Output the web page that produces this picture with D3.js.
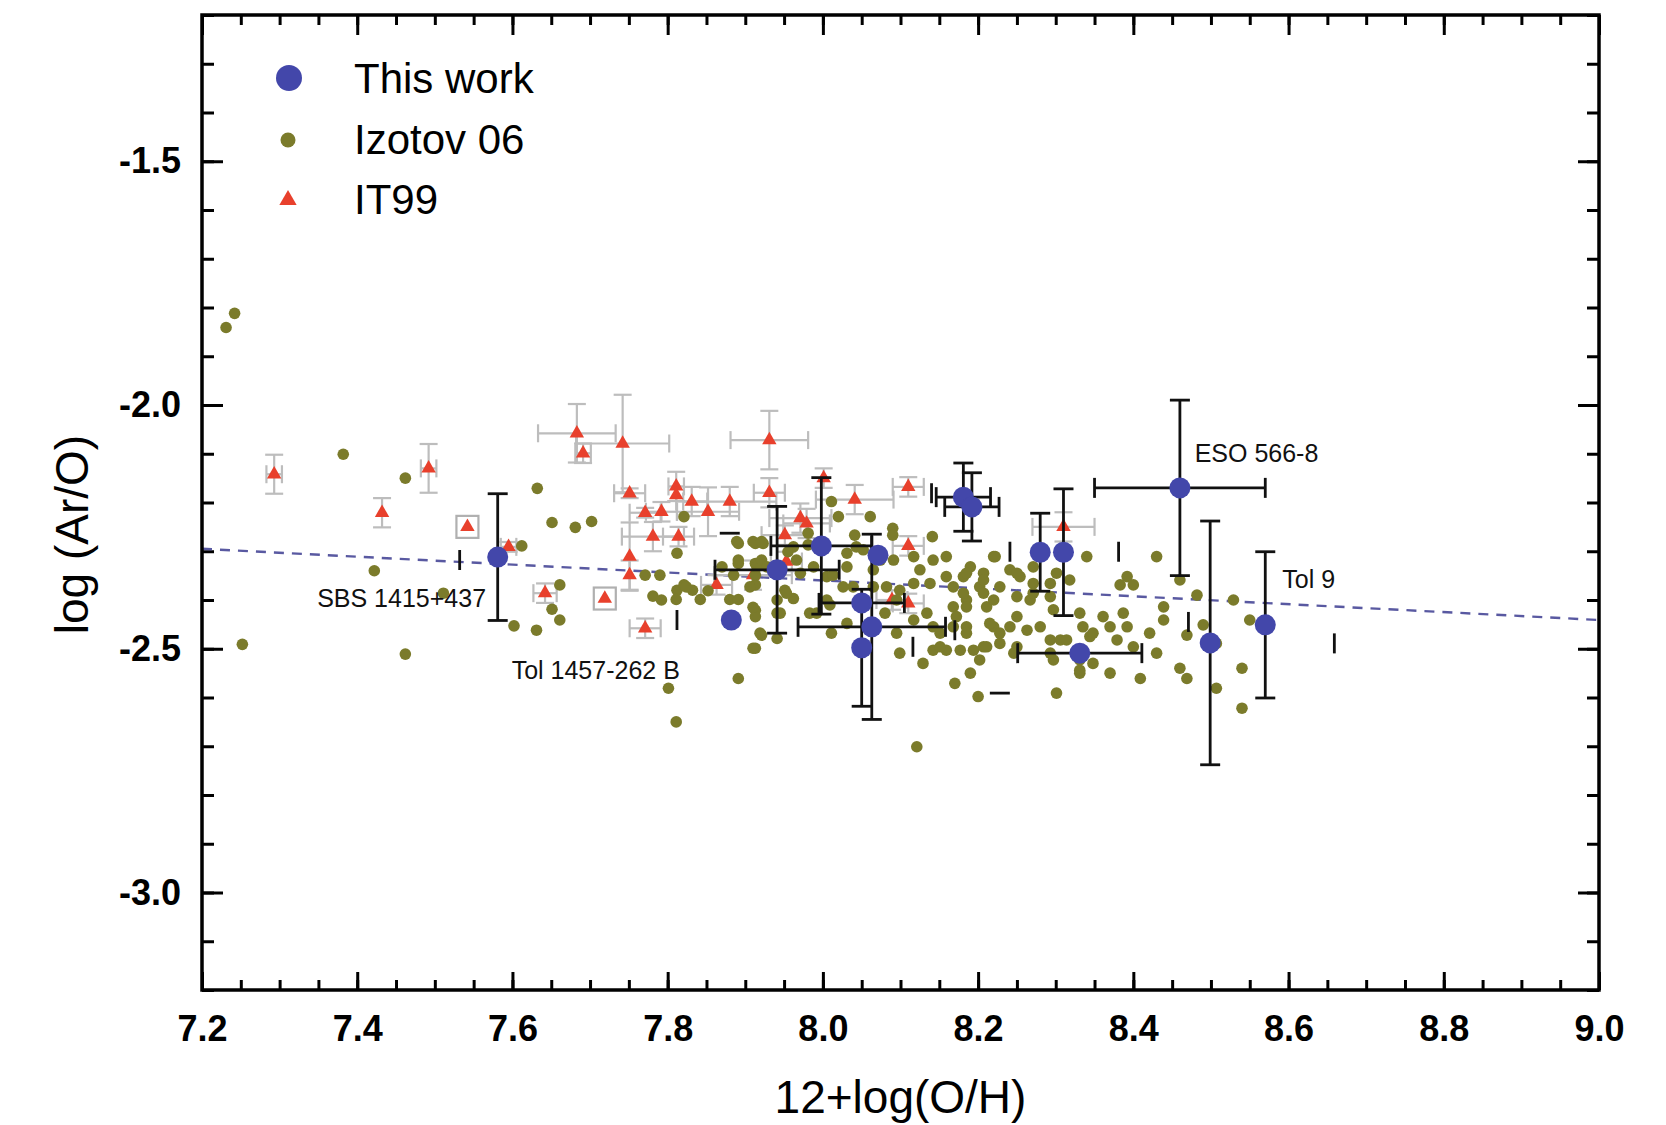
<!DOCTYPE html>
<html>
<head>
<meta charset="utf-8">
<script src="https://cdn.jsdelivr.net/npm/d3@7"></script>
<style>
  body { margin: 0; background: #fff; }
  svg { display: block; font-family: "Liberation Sans", Arial, sans-serif; }
</style>
</head>
<body>
<svg id="chart" width="1666" height="1125"></svg>
<script>
// tick values
const xTicks = [7.2, 7.4, 7.6, 7.8, 8.0, 8.2, 8.4, 8.6, 8.8, 9.0];
const yTicks = [-1.5, -2.0, -2.5, -3.0];

// This work: x, y, x error, y error
const thisWork = [
  [7.581, -2.312, 0, 0.13],
  [7.882, -2.441, 0, 0],
  [7.941, -2.338, 0.08, 0.13],
  [7.998, -2.289, 0.065, 0.14],
  [8.071, -2.308, 0, 0],
  [8.050, -2.406, 0.055, 0],
  [8.063, -2.455, 0.095, 0.19],
  [8.050, -2.498, 0, 0.12],
  [8.181, -2.189, 0.035, 0.07],
  [8.192, -2.209, 0.035, 0.07],
  [8.280, -2.302, 0, 0.08],
  [8.310, -2.302, 0, 0.13],
  [8.331, -2.509, 0.08, 0],
  [8.460, -2.170, 0.11, 0.18],
  [8.499, -2.488, 0, 0.25],
  [8.570, -2.451, 0, 0.15]
];

// Izotov 06: x, y
const izotov06 = [
  [7.231,-1.841],[7.242,-1.812],[7.252,-2.491],[7.382,-2.101],[7.422,-2.340],[7.462,-2.150],[7.462,-2.511],
  [7.511,-2.386],[7.602,-2.453],[7.612,-2.289],[7.631,-2.462],[7.632,-2.171],[7.651,-2.241],[7.651,-2.419],
  [7.661,-2.369],[7.661,-2.441],[7.681,-2.251],[7.702,-2.239],
  [7.771,-2.349],[7.790,-2.349],[7.781,-2.392],[7.792,-2.400],[7.801,-2.581],[7.811,-2.650],[7.812,-2.304],
  [7.812,-2.380],[7.821,-2.229],[7.821,-2.369],[7.832,-2.380],[7.842,-2.399],[7.852,-2.381],[7.811,-2.399],
  [7.880,-2.399],[7.891,-2.399],[7.870,-2.332],[7.891,-2.325],[7.891,-2.284],[7.913,-2.284],[7.923,-2.284],
  [7.913,-2.325],[7.913,-2.349],[7.885,-2.349],[7.913,-2.369],[7.913,-2.421],[7.913,-2.434],[7.921,-2.472],
  [7.941,-2.479],[7.913,-2.499],[7.941,-2.400],[7.951,-2.380],[7.962,-2.397],[7.962,-2.291],[7.941,-2.427],
  [8.011,-2.198],[8.020,-2.229],[8.061,-2.229],[8.090,-2.253],[8.090,-2.267],[8.141,-2.270],[8.159,-2.311],
  [8.220,-2.311],[7.910,-2.280],[7.921,-2.280],[7.891,-2.318],[7.915,-2.332],[7.921,-2.318],[7.906,-2.373],
  [7.955,-2.301],[7.966,-2.318],[7.981,-2.263],[7.981,-2.287],[7.971,-2.345],[7.988,-2.332],[8.005,-2.352],
  [8.013,-2.349],[8.031,-2.332],[8.031,-2.304],[8.043,-2.291],[8.041,-2.267],[8.052,-2.297],[8.065,-2.338],
  [8.074,-2.318],[8.091,-2.318],[8.117,-2.311],[8.125,-2.338],[8.142,-2.318],[8.159,-2.352],[8.138,-2.366],
  [8.117,-2.366],[8.099,-2.380],[8.082,-2.373],[8.065,-2.373],[8.039,-2.373],[8.026,-2.373],[8.005,-2.400],
  [8.009,-2.410],[7.983,-2.427],[7.992,-2.427],[7.953,-2.386],[7.945,-2.427],[7.919,-2.468],[7.910,-2.499],
  [7.891,-2.561],[8.011,-2.468],[8.031,-2.448],[8.080,-2.427],[8.095,-2.400],[8.095,-2.468],[8.117,-2.441],
  [8.134,-2.427],[8.142,-2.455],[8.151,-2.468],[8.168,-2.455],[8.185,-2.455],[8.168,-2.414],[8.185,-2.400],
  [8.202,-2.373],[8.211,-2.414],[8.220,-2.455],[8.168,-2.373],[8.142,-2.503],[8.159,-2.503],[8.177,-2.503],
  [8.194,-2.503],[8.202,-2.523],[8.099,-2.509],[8.129,-2.530],[8.190,-2.550],[8.170,-2.571],[8.200,-2.598],
  [8.121,-2.701],
  [8.222,-2.311],[8.190,-2.332],[8.181,-2.352],[8.207,-2.345],[8.241,-2.338],[8.254,-2.352],[8.271,-2.332],
  [8.271,-2.366],[8.293,-2.366],[8.301,-2.345],[8.318,-2.359],[8.340,-2.311],[8.430,-2.311],[8.460,-2.359],
  [8.392,-2.352],[8.383,-2.369],[8.400,-2.369],[8.181,-2.386],[8.207,-2.386],[8.228,-2.373],[8.250,-2.393],
  [8.267,-2.400],[8.293,-2.393],[8.297,-2.420],[8.172,-2.434],[8.215,-2.448],[8.241,-2.455],[8.263,-2.462],
  [8.228,-2.489],[8.250,-2.496],[8.207,-2.496],[8.293,-2.482],[8.306,-2.482],[8.297,-2.523],[8.331,-2.427],
  [8.335,-2.455],[8.344,-2.475],[8.331,-2.550],[8.348,-2.530],[8.361,-2.434],[8.370,-2.455],[8.387,-2.427],
  [8.392,-2.455],[8.379,-2.482],[8.400,-2.496],[8.421,-2.468],[8.430,-2.509],[8.439,-2.414],[8.439,-2.441],
  [8.370,-2.550],[8.409,-2.561],[8.301,-2.591],[8.460,-2.540],[8.469,-2.561],[8.469,-2.472],[8.482,-2.390],
  [8.490,-2.451],[8.507,-2.489],[8.507,-2.581],[8.529,-2.400],[8.540,-2.540],[8.540,-2.622],[8.550,-2.441],
  [8.185,-2.345],[8.207,-2.359],[8.250,-2.345],[8.271,-2.386],[8.220,-2.400],[8.185,-2.414],[8.250,-2.434],
  [8.280,-2.455],[8.228,-2.468],[8.185,-2.468],[8.151,-2.496],[8.211,-2.496],[8.246,-2.509],[8.293,-2.509],
  [8.314,-2.482],[8.348,-2.468],[8.331,-2.523],[8.331,-2.544],[7.910,-2.415],[7.889,-2.280],[7.928,-2.332],
  [7.824,-2.373]
];

// IT99: x, y, x error, y error, boxed
const it99 = [
  [7.293,-2.142,0.01,0.04,0],[7.432,-2.221,0,0.03,0],[7.492,-2.130,0.01,0.05,0],[7.542,-2.250,0,0,1],
  [7.595,-2.291,0.01,0.01,0],[7.642,-2.386,0.015,0.02,0],[7.719,-2.397,0,0,1],[7.683,-2.058,0.05,0.06,0],
  [7.691,-2.099,0.01,0.02,0],[7.742,-2.079,0.06,0.1,0],[7.751,-2.181,0.02,0.01,0],[7.771,-2.221,0.02,0.01,0],
  [7.792,-2.219,0.02,0.02,0],[7.781,-2.270,0.04,0.03,0],[7.751,-2.311,0,0.07,0],[7.751,-2.349,0,0.03,0],
  [7.771,-2.458,0.02,0.02,0],[7.811,-2.167,0.01,0.03,0],[7.811,-2.185,0,0,0],[7.831,-2.198,0.02,0.03,0],
  [7.852,-2.219,0.04,0.05,0],[7.880,-2.198,0.06,0.03,0],[7.931,-2.072,0.05,0.06,0],[7.931,-2.180,0.02,0.03,0],
  [7.814,-2.270,0.02,0.02,0],[7.863,-2.369,0.02,0.02,0],[7.951,-2.267,0.03,0.02,0],[7.953,-2.321,0.02,0.02,0],
  [8.001,-2.150,0,0.02,0],[8.041,-2.194,0.05,0.03,0],[8.110,-2.168,0.02,0.02,0],[7.971,-2.232,0.04,0.03,0],
  [7.979,-2.243,0.03,0.03,0],[8.110,-2.289,0.02,0.02,0],[7.910,-2.349,0.05,0.03,0],[8.089,-2.400,0.02,0.02,0],
  [8.110,-2.407,0.02,0.02,0],[8.310,-2.250,0.04,0.03,0]
];

// stray black error-bar caps: x, y, orientation
const looseCaps = [
  [7.532,-2.318,"v"],[8.241,-2.301,"v"],[8.381,-2.301,"v"],[8.228,-2.591,"h"],[8.471,-2.445,"v"],
  [8.659,-2.489,"v"],[7.812,-2.441,"v"],[7.880,-2.263,"h"],[8.140,-2.181,"v"],[8.116,-2.496,"v"],
  [8.170,-2.462,"v"]
];

// linear fit (dashed)
const fitLine = [[7.2, -2.295], [9.0, -2.441]];

// object names: text, x, y, anchor
const objLabels = [
  ["SBS 1415+437", 7.566, -2.414, "end"],
  ["Tol 1457-262 B", 7.599, -2.562, "start"],
  ["ESO 566-8", 8.479, -2.117, "start"],
  ["Tol 9", 8.592, -2.375, "start"]
];

const legendItems = ["This work", "Izotov 06", "IT99"];

const BLUE = "#4347aa", GREEN = "#7b7b2b", RED = "#e8402c";

const svg = d3.select("#chart");
const mLeft = 202, mRight = 1599, mTop = 15, mBottom = 990;

const x = d3.scaleLinear().domain([7.2, 9.0]).range([mLeft, mRight]);
const y = d3.scaleLinear().domain([-3.2, -1.2]).range([mBottom, mTop]);

const xMinor = d3.range(0, 37).map(i => 7.2 + i * 0.05);
const yMinor = d3.range(0, 21).map(i => -3.2 + i * 0.1);
const fmt = d => d.toFixed(1);

// axes, ticks pointing inward on all sides
function styleAxis(g) {
  g.select(".domain").remove();
  g.selectAll(".tick line").attr("stroke", "#000").attr("stroke-width", 3);
  g.selectAll(".tick text").attr("fill", "#000").attr("font-size", 36).attr("font-weight", "bold");
}
svg.append("g").attr("transform", `translate(0,${mBottom})`)
  .call(d3.axisBottom(x).tickValues(xMinor).tickSize(-10).tickFormat(""))
  .call(styleAxis);
svg.append("g").attr("transform", `translate(0,${mBottom})`)
  .call(d3.axisBottom(x).tickValues(xTicks).tickSize(-18).tickPadding(25).tickFormat(fmt))
  .call(styleAxis);
svg.append("g").attr("transform", `translate(0,${mTop})`)
  .call(d3.axisTop(x).tickValues(xMinor).tickSize(-10).tickFormat(""))
  .call(styleAxis);
svg.append("g").attr("transform", `translate(0,${mTop})`)
  .call(d3.axisTop(x).tickValues(xTicks).tickSize(-20).tickFormat(""))
  .call(styleAxis);
svg.append("g").attr("transform", `translate(${mLeft},0)`)
  .call(d3.axisLeft(y).tickValues(yMinor).tickSize(-12).tickFormat(""))
  .call(styleAxis);
svg.append("g").attr("transform", `translate(${mLeft},0)`)
  .call(d3.axisLeft(y).tickValues(yTicks).tickSize(-21).tickPadding(21).tickFormat(fmt))
  .call(styleAxis);
svg.append("g").attr("transform", `translate(${mRight},0)`)
  .call(d3.axisRight(y).tickValues(yMinor).tickSize(-12).tickFormat(""))
  .call(styleAxis);
svg.append("g").attr("transform", `translate(${mRight},0)`)
  .call(d3.axisRight(y).tickValues(yTicks).tickSize(-21).tickFormat(""))
  .call(styleAxis);

const plot = svg.append("g");

// dashed fit line
plot.append("path")
  .datum(fitLine)
  .attr("d", d3.line().x(d => x(d[0])).y(d => y(d[1])))
  .attr("fill", "none").attr("stroke", "#3c3c90").attr("stroke-width", 2.4)
  .attr("stroke-dasharray", "10,8").attr("opacity", 0.85);

// error bars helper
function errorBars(g, data, color, width, cap) {
  data.forEach(d => {
    const [dx, dy, xe, ye] = d;
    const cx = x(dx), cy = y(dy);
    if (ye > 0) {
      const y0 = y(dy + ye), y1 = y(dy - ye);
      g.append("line").attr("x1", cx).attr("x2", cx).attr("y1", y0).attr("y2", y1);
      g.append("line").attr("x1", cx - cap).attr("x2", cx + cap).attr("y1", y0).attr("y2", y0);
      g.append("line").attr("x1", cx - cap).attr("x2", cx + cap).attr("y1", y1).attr("y2", y1);
    }
    if (xe > 0) {
      const x0 = x(dx - xe), x1 = x(dx + xe);
      g.append("line").attr("x1", x0).attr("x2", x1).attr("y1", cy).attr("y2", cy);
      g.append("line").attr("x1", x0).attr("x2", x0).attr("y1", cy - cap).attr("y2", cy + cap);
      g.append("line").attr("x1", x1).attr("x2", x1).attr("y1", cy - cap).attr("y2", cy + cap);
    }
  });
  g.attr("stroke", color).attr("stroke-width", width);
}

// IT99 gray bars, boxes and triangles
errorBars(plot.append("g"), it99, "#bdbdbd", 2.2, 9);
plot.append("g").selectAll("rect")
  .data(it99.filter(d => d[4]))
  .join("rect")
  .attr("x", d => x(d[0]) - 11).attr("y", d => y(d[1]) - 11)
  .attr("width", 22).attr("height", 22)
  .attr("fill", "none").attr("stroke", "#b0b0b0").attr("stroke-width", 2.2);
const tri = d3.symbol().type(d3.symbolTriangle);
plot.append("g").selectAll("path")
  .data(it99)
  .join("path")
  .attr("transform", d => `translate(${x(d[0])},${y(d[1])})`)
  .attr("d", tri.size(90)())
  .attr("fill", RED);

// Izotov 06
plot.append("g").selectAll("circle")
  .data(izotov06)
  .join("circle")
  .attr("cx", d => x(d[0])).attr("cy", d => y(d[1]))
  .attr("r", 5.8)
  .attr("fill", GREEN);

// This work bars, stray caps, points
errorBars(plot.append("g"), thisWork, "#111", 2.8, 10);
plot.append("g").attr("stroke", "#111").attr("stroke-width", 2.8)
  .selectAll("line")
  .data(looseCaps)
  .join("line")
  .attr("x1", d => d[2] === "v" ? x(d[0]) : x(d[0]) - 10)
  .attr("x2", d => d[2] === "v" ? x(d[0]) : x(d[0]) + 10)
  .attr("y1", d => d[2] === "v" ? y(d[1]) - 10 : y(d[1]))
  .attr("y2", d => d[2] === "v" ? y(d[1]) + 10 : y(d[1]));
plot.append("g").selectAll("circle")
  .data(thisWork)
  .join("circle")
  .attr("cx", d => x(d[0])).attr("cy", d => y(d[1]))
  .attr("r", 10.5)
  .attr("fill", BLUE);

// object names
plot.append("g").selectAll("text")
  .data(objLabels)
  .join("text")
  .attr("x", d => x(d[1])).attr("y", d => y(d[2]))
  .attr("text-anchor", d => d[3])
  .attr("font-size", 25)
  .attr("fill", "#111")
  .text(d => d[0]);

// frame
svg.append("rect")
  .attr("x", mLeft).attr("y", mTop)
  .attr("width", mRight - mLeft).attr("height", mBottom - mTop)
  .attr("fill", "none").attr("stroke", "#000").attr("stroke-width", 3.5);

// legend
const legend = svg.append("g");
legend.append("circle").attr("cx", 289).attr("cy", 78).attr("r", 13).attr("fill", BLUE);
legend.append("circle").attr("cx", 288).attr("cy", 140).attr("r", 7.5).attr("fill", GREEN);
legend.append("path").attr("transform", "translate(288,200)")
  .attr("d", d3.symbol().type(d3.symbolTriangle).size(130)()).attr("fill", RED);
legend.selectAll("text")
  .data(legendItems)
  .join("text")
  .attr("x", 354)
  .attr("y", (d, i) => [93, 154, 214][i])
  .attr("font-size", 42)
  .attr("fill", "#000")
  .text(d => d);

// axis titles
svg.append("text")
  .attr("x", (mLeft + mRight) / 2).attr("y", 1113)
  .attr("text-anchor", "middle").attr("font-size", 46)
  .text("12+log(O/H)");
svg.append("text")
  .attr("transform", `translate(88,${(mTop + mBottom) / 2 + 32}) rotate(-90)`)
  .attr("text-anchor", "middle").attr("font-size", 46)
  .text("log (Ar/O)");
</script>
</body>
</html>
